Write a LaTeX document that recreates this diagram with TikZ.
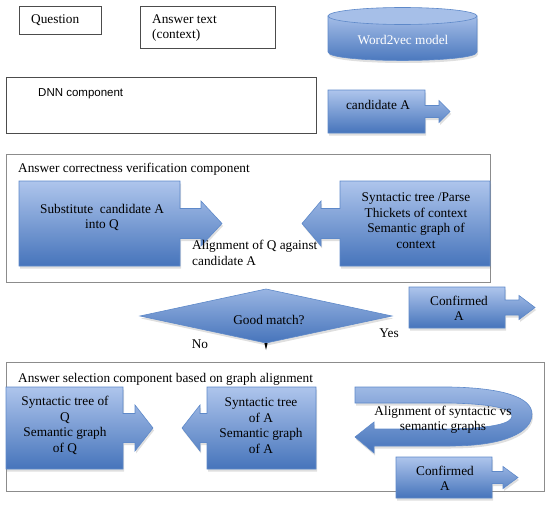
\documentclass[tikz,border=0pt]{standalone}
\usepackage{fontspec}
\setmainfont{Liberation Serif}
\newfontfamily\sansf{Liberation Sans}
\usetikzlibrary{shadows}
\definecolor{bluetop}{HTML}{AEC5EC}
\definecolor{bluebot}{HTML}{4674BB}
\definecolor{blueedge}{HTML}{5E89C9}
\definecolor{cyltop}{HTML}{A6BFE8}
\begin{document}
\begin{tikzpicture}[x=1pt,y=-1pt,
  bluefill/.style={top color=bluetop, bottom color=bluebot, draw=blueedge, line width=0.6pt,
    drop shadow={opacity=0.25, shadow xshift=1pt, shadow yshift=-2.5pt}},
  txt/.style={font=\fontsize{13.3}{15.5}\selectfont, inner sep=0pt, align=center},
  plainbox/.style={draw=black!70, line width=0.7pt},
  framebox/.style={draw=black!45, line width=0.8pt}]
\useasboundingbox (0,0) rectangle (550,506);

% top row
\node[plainbox, minimum width=82pt, minimum height=28pt, anchor=north west, inner sep=0pt] (qbox) at (19,6) {};
\node[txt, anchor=west] (qtxt) at (31,20) {Question};
\node[plainbox, minimum width=135pt, minimum height=42pt, anchor=north west, inner sep=0pt] (abox) at (140,6) {};
\node[txt, anchor=west, align=left] (atxt) at (152,28) {Answer text\\(context)};

% cylinder
\path[top color=bluetop!90!bluebot, bottom color=bluebot, draw=blueedge, line width=0.6pt,
    drop shadow={opacity=0.25, shadow xshift=1pt, shadow yshift=-2.5pt}]
  (328,16) -- (328,52) .. controls (328,63.3) and (477,63.3) .. (477,52) -- (477,16) -- cycle;
\path[fill=cyltop, draw=blueedge, line width=0.6pt] (402.5,16) ellipse [x radius=74.5pt, y radius=8.5pt];
\node[txt, text=white] (w2v) at (403,40) {Word2vec model};

% DNN
\node[plainbox, minimum width=310pt, minimum height=56pt, anchor=north west, inner sep=0pt] (dnn) at (6,77) {};
\node[font=\sansf\fontsize{11.5}{13}\selectfont, inner sep=0pt, anchor=west] (dnntxt) at (38,94) {DNN component};

% candidate A
\path[bluefill] (328,90) -- (425,90) -- (425,105.5) -- (439,105.5) -- (439,100.5) -- (450,111.5) -- (439,122.5) -- (439,117.5) -- (425,117.5) -- (425,133) -- (328,133) -- cycle;
\node[txt] (cand) at (378,105) {candidate A};

% verification component
\node[framebox, minimum width=484pt, minimum height=128pt, anchor=north west, inner sep=0pt] (verif) at (6,154) {};
\node[txt, anchor=west] (veriftitle) at (18,169) {Answer correctness verification component};
\path[bluefill] (19,181) -- (180,181) -- (180,208.5) -- (201,208.5) -- (201,201) -- (222,223.5) -- (201,246) -- (201,238.5) -- (180,238.5) -- (180,266) -- (19,266) -- cycle;
\node[txt] (subst) at (102,217.5) {Substitute~ candidate A\\into Q};
\path[bluefill] (490,181) -- (340,181) -- (340,208.5) -- (321,208.5) -- (321,201) -- (302,223.5) -- (321,246) -- (321,238.5) -- (340,238.5) -- (340,266) -- (490,266) -- cycle;
\node[txt] (synt) at (416,220.5) {Syntactic tree /Parse\\Thickets of context\\Semantic graph of\\context};
\node[txt, anchor=west, align=left] (align1) at (192,253) {Alignment of Q against\\candidate A};

% decision
\path[top color=bluetop!80!bluebot, bottom color=bluebot, draw=blueedge, line width=0.6pt,
    drop shadow={opacity=0.25, shadow xshift=1pt, shadow yshift=-2.5pt}]
  (140,316) -- (266,289) -- (392,316) -- (266,343) -- cycle;
\coordinate (dbot) at (266,343);
\node[txt] (good) at (269,320) {Good match?};
\fill[black] ([xshift=-1.6pt]dbot) -- ([xshift=1.6pt]dbot) -- ([yshift=-7pt]dbot) -- cycle;
\node[txt] (yes) at (389,333) {Yes};
\node[txt] (no) at (200,344) {No};

% confirmed A (1)
\path[bluefill] (409,287) -- (505,287) -- (505,300) -- (519,300) -- (519,295.5) -- (535,307.5) -- (519,319.5) -- (519,315) -- (505,315) -- (505,328) -- (409,328) -- cycle;
\node[txt] (conf1) at (459,308.5) {Confirmed\\A};

% selection component
\node[framebox, minimum width=538pt, minimum height=129pt, anchor=north west, inner sep=0pt] (sel) at (6,362) {};
\node[txt, anchor=west] (seltitle) at (18,379) {Answer selection component based on graph alignment};
\path[bluefill] (6,387) -- (123,387) -- (123,413.5) -- (135,413.5) -- (135,405) -- (153,428) -- (135,451) -- (135,442.5) -- (123,442.5) -- (123,469) -- (6,469) -- cycle;
\node[txt] (stq) at (65,425.5) {Syntactic tree of\\Q\\Semantic graph\\of Q};
\path[bluefill] (316,387) -- (207,387) -- (207,413.5) -- (200,413.5) -- (200,405) -- (182,428) -- (200,451) -- (200,442.5) -- (207,442.5) -- (207,469) -- (316,469) -- cycle;
\node[txt] (sta) at (261,425.5) {Syntactic tree\\of A\\Semantic graph\\of A};

% curved arrow
\path[top color=bluetop!85!bluebot, bottom color=bluebot, draw=blueedge, line width=0.6pt,
    drop shadow={opacity=0.25, shadow xshift=1pt, shadow yshift=-2.5pt}]
  (355,387) -- (450,387) .. controls (505,388) and (532,398) .. (532,414)
  .. controls (532,432) and (505,446) .. (450,446) -- (374,446) -- (374,453) -- (355,437)
  -- (374,422) -- (374,429) -- (450,429) .. controls (495,428) and (512,423) .. (512,416)
  .. controls (512,408) and (490,404) .. (450,403) -- (355,403) -- cycle;
\node[txt] (alsem) at (443,420) {Alignment of syntactic vs\\semantic graphs};

% confirmed A (2)
\path[bluefill] (396,457) -- (492,457) -- (492,471.5) -- (503,471.5) -- (503,466.5) -- (518,477.5) -- (503,488.5) -- (503,483.5) -- (492,483.5) -- (492,498) -- (396,498) -- cycle;
\node[txt] (conf2) at (445,478.5) {Confirmed\\A};
\end{tikzpicture}
\end{document}
